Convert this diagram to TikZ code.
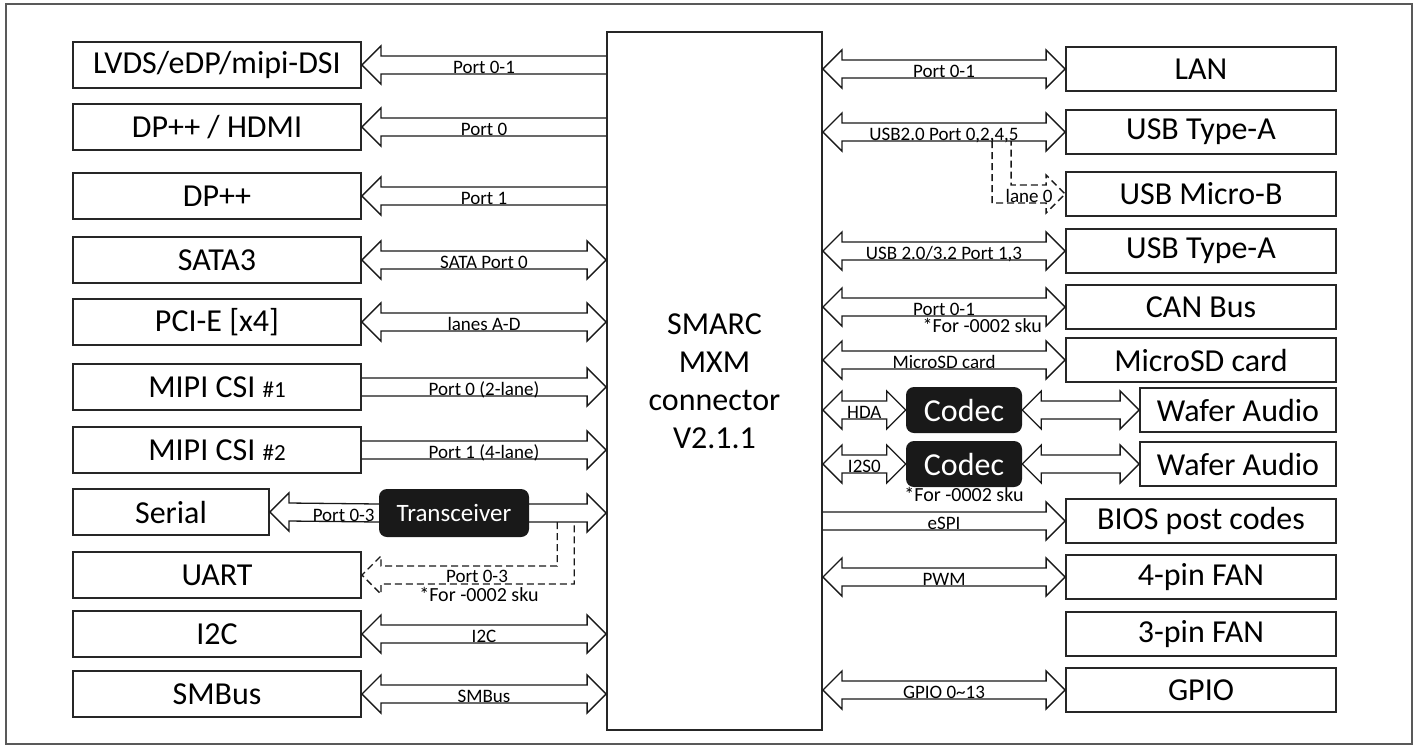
\documentclass[tikz,border=0pt]{standalone}
\usepackage{fontspec}
\setmainfont{Carlito}
\usetikzlibrary{calc}

% hollow bus arrows, p = left end, q = right end
\newcommand{\busboth}[3]{%
  \coordinate (p) at (#1); \coordinate (q) at (#2);
  \draw[bus] (p) -- ++(19,-19) -- ++(0,10) -- ($(q)+(-19,-9)$) -- ++(0,-10) -- (q)
    -- ++(-19,19) -- ++(0,-10) -- ($(p)+(19,9)$) -- ++(0,10) -- cycle;
  \node[lbl] at ($(p)!0.5!(q)+(0,8)$) {#3};}
\newcommand{\busleft}[3]{%
  \coordinate (p) at (#1); \coordinate (q) at (#2);
  \draw[bus] ($(q)+(0,-9)$) -- ($(p)+(19,-9)$) -- ++(0,-10) -- (p)
    -- ++(19,19) -- ++(0,-10) -- ($(q)+(0,9)$);
  \node[lbl] at ($(p)!0.5!(q)+(0,8)$) {#3};}
\newcommand{\busright}[3]{%
  \coordinate (p) at (#1); \coordinate (q) at (#2);
  \draw[bus] ($(p)+(0,-9)$) -- ($(q)+(-19,-9)$) -- ++(0,-10) -- (q)
    -- ++(-19,19) -- ++(0,-10) -- ($(p)+(0,9)$);
  \node[lbl] at ($(p)!0.5!(q)+(0,8)$) {#3};}

\begin{document}
\begin{tikzpicture}[x=1pt, y=-1pt,
    box/.style={rectangle,draw=black!85,line width=1.8pt,minimum height=46pt,inner sep=0pt,font=\fontsize{32}{38}\selectfont},
    lbox/.style={box,minimum width=288pt},
    rbox/.style={box,minimum width=270pt,minimum height=44pt},
    wbox/.style={box,minimum width=196pt,minimum height=44pt},
    chip/.style={rectangle,rounded corners=8pt,fill=black!90,text=white,inner sep=0pt,minimum width=116pt,minimum height=46pt,font=\fontsize{32}{38}\selectfont},
    bus/.style={draw=black!90,line width=1.3pt},
    lbl/.style={anchor=base,inner sep=0pt,font=\fontsize{19}{20}\selectfont},
    note/.style={lbl,font=\fontsize{20}{21}\selectfont}
  ]
  \useasboundingbox (0,0) rectangle (1415,748);
  \draw[black!65,line width=1.2pt] (6,4) rectangle (1412,744);

  % connector
  \node[box,minimum width=215pt,minimum height=698pt,align=center] (smarc) at (714.5,381) {SMARC\\MXM\\connector\\V2.1.1};

  % left column
  \node[lbox] (lvds) at (217,65) {LVDS/eDP/mipi-DSI};
  \node[lbox] (hdmi) at (217,127) {DP++ / HDMI};
  \node[lbox] (dpp) at (217,196) {DP++};
  \node[lbox] (sata) at (217,260) {SATA3};
  \node[lbox] (pcie) at (217,322) {PCI-E [x4]};
  \node[lbox] (csione) at (217,387) {MIPI CSI {\fontsize{23}{24}\selectfont\#1}};
  \node[lbox] (csitwo) at (217,450) {MIPI CSI {\fontsize{23}{24}\selectfont\#2}};
  \node[box,minimum width=196pt] (serial) at (171,512) {Serial};
  \node[lbox] (uart) at (217,575) {UART};
  \node[lbox] (itwoc) at (217,634) {I2C};
  \node[lbox] (smbus) at (217,694) {SMBus};
  \node[chip,minimum width=150pt,minimum height=48pt,font=\fontsize{25}{30}\selectfont] (trx) at (454,513) {Transceiver};

  \busleft{lvds.east}{lvds.east -| smarc.west}{Port 0-1}
  \busleft{hdmi.east}{hdmi.east -| smarc.west}{Port 0}
  \busleft{dpp.east}{dpp.east -| smarc.west}{Port 1}
  \busboth{sata.east}{sata.east -| smarc.west}{SATA Port 0}
  \busboth{pcie.east}{pcie.east -| smarc.west}{lanes A-D}
  \busright{csione.east}{csione.east -| smarc.west}{Port 0 (2-lane)}
  \busright{csitwo.east}{csitwo.east -| smarc.west}{Port 1 (4-lane)}
  \busleft{serial.east}{trx.west}{}
  \node[lbl,anchor=base east] at ($(trx.west)+(-4,8)$) {Port 0-3};
  \busright{trx.east}{trx.east -| smarc.west}{}
  \draw[bus,dashed,dash pattern=on 7pt off 4pt] ($(trx.east)+(28,9)$) |- ($(uart.east)+(19,-9)$) -- ++(0,-10) -- (uart.east)
    -- ++(19,19) -- ++(0,-10) -| ($(trx.east)+(45,9)$);
  \node[lbl] at (477,582) {Port 0-3};
  \node[note] at (479,601) {*For -0002 sku};
  \busboth{itwoc.east}{itwoc.east -| smarc.west}{I2C}
  \busboth{smbus.east}{smbus.east -| smarc.west}{SMBus}

  % right column
  \node[rbox] (lan) at (1201,69) {LAN};
  \node[rbox] (usbaone) at (1201,132) {USB Type-A};
  \node[rbox] (microb) at (1201,194) {USB Micro-B};
  \node[rbox] (usbatwo) at (1201,251) {USB Type-A};
  \node[rbox] (can) at (1201,307) {CAN Bus};
  \node[rbox] (microsd) at (1201,360) {MicroSD card};
  \node[wbox] (waferone) at (1238,410) {Wafer Audio};
  \node[wbox] (wafertwo) at (1238,464) {Wafer Audio};
  \node[rbox] (bios) at (1201,521) {BIOS post codes};
  \node[rbox] (fanfour) at (1201,577) {4-pin FAN};
  \node[rbox] (fanthree) at (1201,634) {3-pin FAN};
  \node[rbox] (gpio) at (1201,690) {GPIO};
  \node[chip] (codecone) at (964,410) {Codec};
  \node[chip] (codectwo) at (964,464) {Codec};

  \busboth{smarc.east |- lan.west}{lan.west}{Port 0-1}
  \busboth{smarc.east |- usbaone.west}{usbaone.west}{USB2.0 Port 0,2,4,5}
  \draw[bus,dashed,dash pattern=on 7pt off 4pt] ($(usbaone.west)+(-73,9)$) |- ($(microb.west)+(-19,9)$) -- ++(0,10) -- (microb.west)
    -- ++(-19,-19) -- ++(0,10) -| ($(usbaone.west)+(-54,9)$);
  \node[lbl] at ($(microb.west)+(-36,8)$) {lane 0};
  \busboth{smarc.east |- usbatwo.west}{usbatwo.west}{USB 2.0/3.2 Port 1,3}
  \busboth{smarc.east |- can.west}{can.west}{Port 0-1}
  \node[note,anchor=base east] at ($(can.west)+(-23,25)$) {*For -0002 sku};
  \busboth{smarc.east |- microsd.west}{microsd.west}{MicroSD card}
  \busboth{smarc.east |- codecone.west}{codecone.west}{HDA}
  \busboth{codecone.east}{waferone.west}{}
  \busboth{smarc.east |- codectwo.west}{codectwo.west}{I2S0}
  \busboth{codectwo.east}{wafertwo.west}{}
  \node[note] at ($(codectwo.south)+(0,14)$) {*For -0002 sku};
  \busright{smarc.east |- bios.west}{bios.west}{eSPI}
  \busboth{smarc.east |- fanfour.west}{fanfour.west}{PWM}
  \busboth{smarc.east |- gpio.west}{gpio.west}{GPIO 0\textasciitilde13}
\end{tikzpicture}
\end{document}
